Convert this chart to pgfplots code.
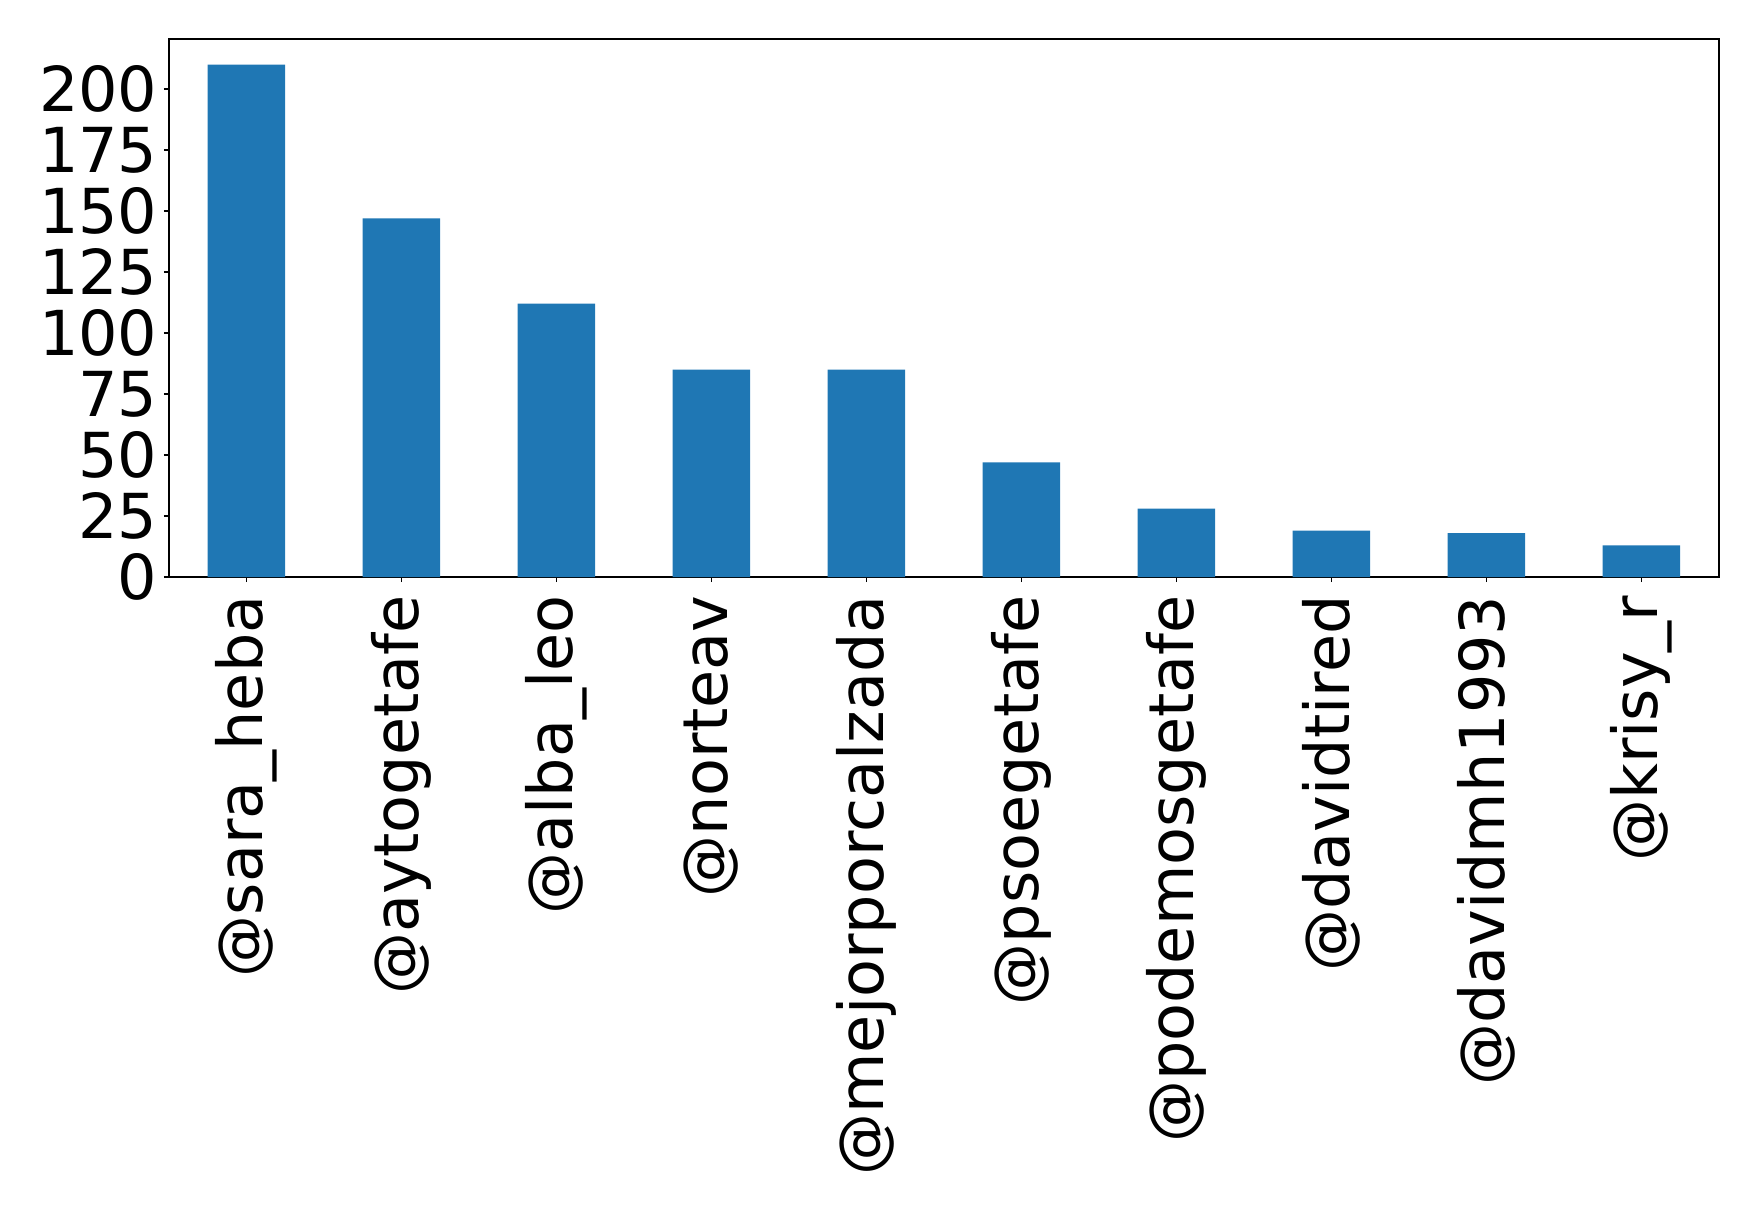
\documentclass[border=0pt]{standalone}
\usepackage{fontspec}
\setmainfont{DejaVu Sans}
\usepackage{pgfplots}
\pgfplotsset{compat=1.18}
\definecolor{barblue}{HTML}{1F77B4}

\begin{document}
\begin{tikzpicture}
\begin{axis}[
    scale only axis,
    width=775pt, height=269pt,
    xmin=-0.5, xmax=9.5,
    ymin=0, ymax=220.5,
    ytick={0,25,...,200},
    xtick=data,
    xticklabels={@sara\_heba,@aytogetafe,@alba\_leo,@norteav,@mejorporcalzada,@psoegetafe,@podemosgetafe,@davidtired,@davidmh1993,@krisy\_r},
    xtick pos=bottom, ytick pos=left,
    tick align=outside,
    major tick length=2.6pt,
    tick style={black, line width=0.6pt},
    axis line style={line width=0.6pt},
    /pgf/number format/assume math mode=true,
    tick label style={font=\fontsize{31}{37}\selectfont},
    yticklabel style={anchor=east, inner sep=0pt, xshift=-3pt},
    xticklabel style={yshift=-6.5pt, rotate=90, anchor=east, inner sep=0pt},
]
\addplot[ybar, bar width=0.5, fill=barblue, draw=none] coordinates {
    (0,210) (1,147) (2,112) (3,85) (4,85)
    (5,47) (6,28) (7,19) (8,18) (9,13)
};
\end{axis}
\pgfresetboundingbox
\path[use as bounding box] (-84.5pt,-317.5pt) rectangle (794.5pt,288.5pt);
\end{tikzpicture}
\end{document}
